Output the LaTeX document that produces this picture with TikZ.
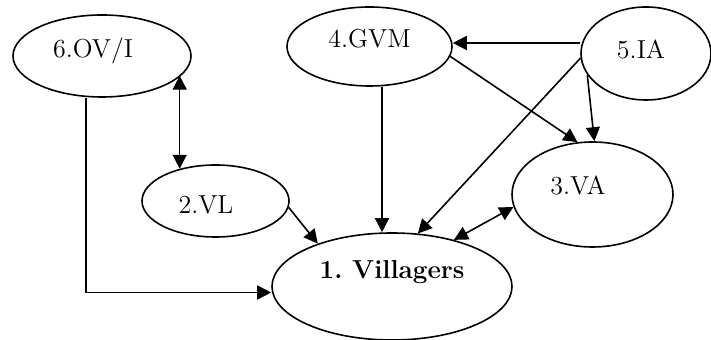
\documentclass[tikz,border=0pt]{standalone}
\usetikzlibrary{shapes.geometric}
\usetikzlibrary{arrows.meta}

\begin{document}
\begin{tikzpicture}[
      x=0.5pt,y=-0.5pt,
      actor/.style={ellipse,draw,line width=0.8pt,inner sep=0pt,text height=8.9pt,
        font=\fontsize{13}{15}\selectfont},
      link/.style={-{Triangle[length=7pt,width=7pt]},line width=0.8pt},
      link bidi/.style={link,{Triangle[length=7pt,width=7pt]}-{Triangle[length=7pt,width=7pt]}},
    ]
    \useasboundingbox (0,0) rectangle (711,340);
    \node[actor,minimum width=89pt,minimum height=41pt,text depth=7pt] (OVI) at (102,56) {6.OV/I\hspace*{9pt}};
    \node[actor,minimum width=82.5pt,minimum height=39.5pt,text depth=7.5pt] (GVM) at (369.5,46.5) {4.GVM};
    \node[actor,minimum width=65pt,minimum height=46.5pt,text depth=3.5pt] (IA) at (646,53.5) {5.IA\hspace*{5pt}};
    \node[actor,minimum width=73.5pt,minimum height=36pt,text height=12.9pt,text depth=0pt] (VL) at (215.5,201) {2.VL\hspace*{9.5pt}};
    \node[actor,minimum width=80.5pt,minimum height=52.5pt,text depth=8.5pt] (VA) at (592.5,194.5) {3.VA\hspace*{14.5pt}};
    \node[actor,minimum width=120pt,minimum height=53.5pt,text depth=16.5pt] (Villagers) at (392,286.5) {\bfseries 1.\ Villagers};
    \draw[link] ([xshift=-8pt]OVI.south) |- ([yshift=-3pt]Villagers.west);
    \draw[link bidi] (VL.138) -- (VL.138 |- OVI.-14);
    \draw[link] (VL.-5) -- (Villagers.150);
    \draw[link] ([xshift=-5pt]Villagers.north |- GVM.south) -- ([xshift=-5pt]Villagers.north);
    \draw[link] ([yshift=1.75pt]GVM.east -| IA.west) -- ([yshift=1.75pt]GVM.east);
    \draw[link] (IA.184) -- (Villagers.64);
    \draw[link] (GVM.-7) -- (VA.106);
    \draw[link] (IA.200) -- (VA.88);
    \draw[link bidi] (VA.189) -- (Villagers.37);
  \end{tikzpicture}
\end{document}
